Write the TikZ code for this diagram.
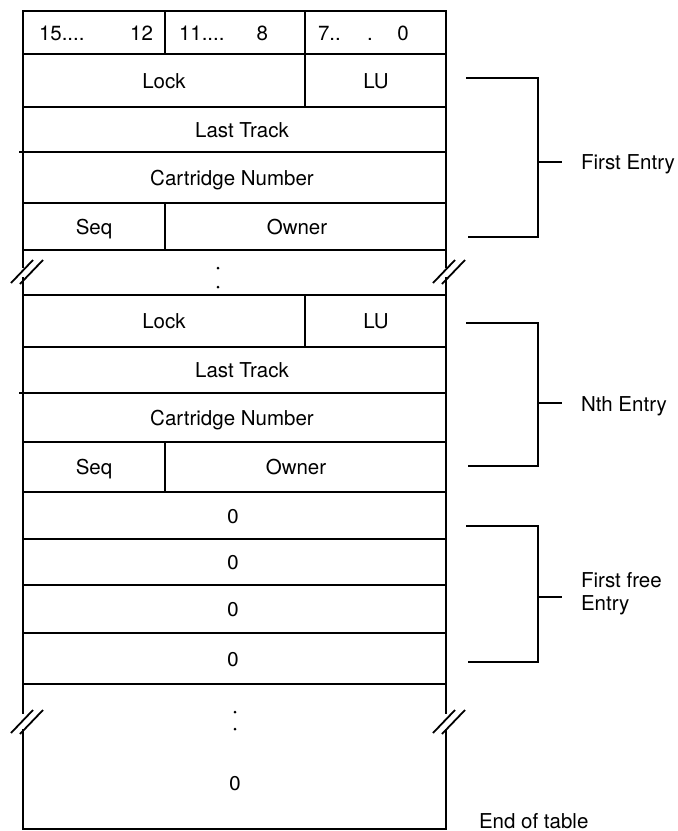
\documentclass[tikz,border=0pt]{standalone}
\usepackage{fontspec}
\setmainfont{TeX Gyre Heros}
\newfontfamily\zerofont{DejaVu Sans}
\begin{document}
\begin{tikzpicture}[x=1pt,y=-1pt,
  line width=2pt, line cap=rect,
  every node/.style={inner sep=0pt, font=\fontsize{20.5}{23}\selectfont},
  txt/.style={anchor=base},
  zero/.style={anchor=base, font=\zerofont\fontsize{19}{23}\selectfont},
  lbl/.style={anchor=base west, align=left},
  brk/.style={line width=1.8pt, line cap=butt},
  dotm/.style={circle, fill=black, minimum size=3pt, inner sep=0pt}]
\useasboundingbox (0,0) rectangle (678,831);

% outer verticals with break gaps
\draw (23,11) -- (23,267);
\draw (23,278) -- (23,713);
\draw (23,730) -- (23,829);
\draw (446,11) -- (446,267);
\draw (446,278) -- (446,713);
\draw (446,730) -- (446,829);

% horizontal rules
\foreach \yy in {11,54,107,203,250,295,347,442,492,539,585,633,684,829}
  \draw (23,\yy) -- (446,\yy);
\draw (20,152) -- (446,152);
\draw (20,393) -- (446,393);

% inner dividers
\draw (165,11) -- (165,54);
\draw (305,11) -- (305,107);
\draw (165,203) -- (165,250);
\draw (305,295) -- (305,347);
\draw (165,442) -- (165,492);

% break marks
\foreach \yb in {283,733} {
  \draw[brk] (11,\yb) -- (33,\yb-23);
  \draw[brk] (20,\yb+1) -- (43,\yb-23);
  \draw[brk] (433,\yb) -- (455,\yb-23);
  \draw[brk] (442,\yb+1) -- (465,\yb-23);
}

% row 1: bit numbers
\node[anchor=base west] (b15) at (38,40) {15....};
\node[anchor=base east] (b12) at (154,40) {12};
\node[anchor=base west] (b11) at (178,40) {11....};
\node[anchor=base east] (b8) at (269,40) {8};
\node[anchor=base west] (b7) at (317,40) {7..};
\node[txt] (bdot) at (370,40) {.};
\node[txt] (b0) at (403,40) {0};

% first entry
\node[txt] (lock1) at (164,88) {Lock};
\node[txt] (lu1) at (376,88) {LU};
\node[txt] (lt1) at (242,137) {Last Track};
\node[txt] (cn1) at (232,185) {Cartridge Number};
\node[txt] (seq1) at (94,234) {Seq};
\node[txt] (own1) at (297,234) {Owner};

% first gap dots
\node[dotm] (gd1) at (218,268) {};
\node[dotm] (gd2) at (218,287) {};

% nth entry
\node[txt] (lock2) at (164,328.5) {Lock};
\node[txt] (lu2) at (376,328.5) {LU};
\node[txt] (lt2) at (242,377.5) {Last Track};
\node[txt] (cn2) at (232,425) {Cartridge Number};
\node[txt] (seq2) at (94,474.5) {Seq};
\node[txt] (own2) at (296,474.5) {Owner};

% zero rows
\node[zero] (z1) at (233,523) {0};
\node[zero] (z2) at (233,569.5) {0};
\node[zero] (z3) at (233,616.5) {0};
\node[zero] (z4) at (233,666) {0};

% last gap
\node[dotm] (ld1) at (235,712) {};
\node[dotm] (ld2) at (235,729) {};
\node[zero] (z5) at (235,790) {0};

% brackets and labels
\node[lbl] (first) at (580,169.5) {First Entry};
\node[lbl] (nth) at (580,411) {Nth Entry};
\node[lbl] (free) at (580,610) {First free\\Entry};
\node[lbl] (end) at (478,828) {End of table};

\coordinate (t1) at (562,162);
\coordinate (t2) at (562,403);
\coordinate (t3) at (562,597);

\draw[line cap=butt] (466,78) -- (538,78) -- (538,237) -- (468,237);
\draw[line cap=butt] (538,162) -- (t1);
\draw[line cap=butt] (466,323) -- (538,323) -- (538,466) -- (468,466);
\draw[line cap=butt] (538,403) -- (t2);
\draw[line cap=butt] (466,526) -- (538,526) -- (538,662) -- (468,662);
\draw[line cap=butt] (538,597) -- (t3);
\end{tikzpicture}
\end{document}
